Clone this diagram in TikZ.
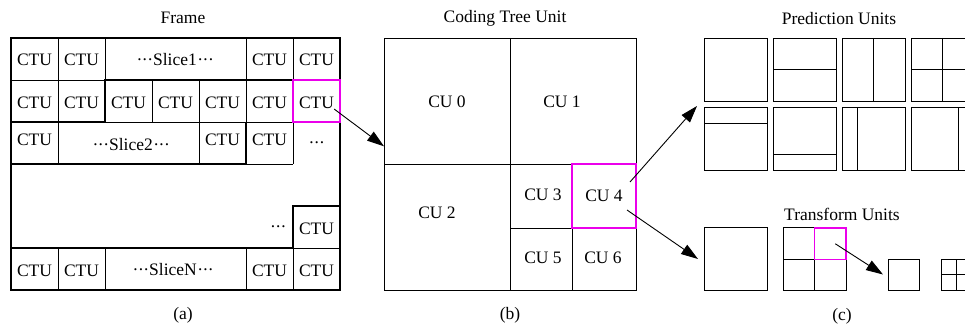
\documentclass[tikz,border=0pt]{standalone}
\usepackage{fontspec}
\setmainfont{Liberation Serif}
\usetikzlibrary{arrows.meta,calc}
\definecolor{hlmag}{RGB}{235,0,235}
\newcommand{\mdots}{\raisebox{0.1ex}{\kern0.5pt·\kern-0.5pt·\kern-0.5pt·}}

\begin{document}
\begin{tikzpicture}[x=1pt, y=-1pt,
    lbl/.style={font=\fontsize{17.5}{20}\selectfont, inner sep=0pt},
    thinline/.style={line width=0.9pt},
    slicebd/.style={line width=2.5pt},
    cubox/.style={draw, thinline, inner sep=0pt, outer sep=0pt, minimum size=#1},
    hlbox/.style={draw=hlmag, line width=1.5pt, inner sep=0pt, outer sep=0pt, minimum size=#1},
    arr/.style={-{Triangle[length=17pt,width=11pt]}, line width=0.9pt}]
    \useasboundingbox (0,0) rectangle (965,326);
    \clip (0,0) rectangle (965,326);

    % Frame: CTU borders
    \foreach \x in {58,105,246,293} \draw[thinline] (\x,38) -- (\x,80);
    \foreach \x in {58,152,199,246,293} \draw[thinline] (\x,80) -- (\x,122);
    \foreach \x in {58,199,293} \draw[thinline] (\x,122) -- (\x,164);
    \foreach \x in {58,105,246,293} \draw[thinline] (\x,248) -- (\x,290);
    \draw[thinline] (11,80) -- (105,80);
    \draw[thinline] (105,122) -- (340,122);
    \draw[thinline] (246,164) -- (293,164);
    \draw[thinline] (293,248) -- (340,248);

    % Frame: slice borders
    \draw[slicebd] (11,38) rectangle (340,290);
    \draw[slicebd] (340,80) -- (105,80) -- (105,122) -- (11,122);
    \draw[slicebd] (246,122) -- (246,164) -- (11,164);
    \draw[slicebd] (340,206) -- (293,206) -- (293,248) -- (11,248);

    % Frame: nodes
    \foreach \c/\x in {1/34.5,2/81.5,6/269.5,7/316.5} {
        \node[lbl] (ctu1\c) at (\x,60) {CTU};
        \node[lbl] (ctu6\c) at (\x,271) {CTU};
    }
    \foreach \c/\x in {1/34.5,2/81.5,3/128.5,4/175.5,5/222.5,6/269.5,7/316.5}
        \node[lbl] (ctu2\c) at (\x,103) {CTU};
    \foreach \c/\x in {1/34.5,5/222.5,6/269.5}
        \node[lbl] (ctu3\c) at (\x,140) {CTU};
    \node[lbl] (ctu57) at (316.5,229) {CTU};
    \node[lbl] (slice1) at (175,60) {\mdots Slice1\mdots};
    \node[lbl] (slice2) at (131,145) {\mdots Slice2\mdots};
    \node[lbl] (sliceN) at (173,270) {\mdots SliceN\mdots};
    \node[lbl] (dots3) at (316.5,145) {\mdots};
    \node[lbl] (dots5) at (278,229) {\mdots};
    \node[hlbox=42pt, minimum width=47pt] (selctu) at (316.5,101) {};
    \node[lbl] (frame) at (183,18) {Frame};
    \node[lbl] (capa) at (183,315) {(a)};

    % Coding Tree Unit
    \node[cubox=252pt] (ctb) at (510,164) {};
    \node[lbl, hlbox=64pt] (cu4box) at (604,196) {CU 4};
    \draw[thinline] (ctb.north) -- (ctb.south);
    \draw[thinline] (ctb.west) -- (ctb.east);
    \draw[thinline] (cu4box.north west) -- (cu4box.north west |- ctb.south);
    \draw[thinline] (ctb.center |- cu4box.south) -- (cu4box.south west);
    \draw[draw=hlmag, line width=1.5pt] (cu4box.north west) rectangle (cu4box.south east);
    \node[lbl] (cu0) at (447,102) {CU 0};
    \node[lbl] (cu1) at (562,102) {CU 1};
    \node[lbl] (cu2) at (437,213) {CU 2};
    \node[lbl] (cu3) at (543,195) {CU 3};
    \node[lbl] (cu5) at (543,258) {CU 5};
    \node[lbl] (cu6) at (603,258) {CU 6};
    \node[lbl] (ctbtitle) at (505,18) {Coding Tree Unit};
    \node[lbl] (capb) at (510,315) {(b)};

    % Prediction Units
    \foreach \i/\x/\y in {1/735.5/69.5,2/804.5/69.5,3/873.5/69.5,4/942.5/69.5,
                          5/735.5/139,6/804.5/139,7/873.5/139,8/942.5/139}
        \node[cubox=63pt] (pu\i) at (\x,\y) {};
    \draw[thinline] (pu2.west) -- (pu2.east);
    \draw[thinline] (pu3.north) -- (pu3.south);
    \draw[thinline] (pu4.west) -- (pu4.east) (pu4.north) -- (pu4.south);
    \draw[thinline] ($(pu5.north west)!0.25!(pu5.south west)$) -- ($(pu5.north east)!0.25!(pu5.south east)$);
    \draw[thinline] ($(pu6.north west)!0.75!(pu6.south west)$) -- ($(pu6.north east)!0.75!(pu6.south east)$);
    \draw[thinline] ($(pu7.north west)!0.25!(pu7.north east)$) -- ($(pu7.south west)!0.25!(pu7.south east)$);
    \draw[thinline] ($(pu8.north west)!0.75!(pu8.north east)$) -- ($(pu8.south west)!0.75!(pu8.south east)$);
    \node[lbl] (putitle) at (839,19) {Prediction Units};

    % Transform Units
    \node[cubox=63pt] (tu1) at (735.5,259) {};
    \node[cubox=63pt] (tu2) at (814.5,259) {};
    \draw[thinline] (tu2.north) -- (tu2.south) (tu2.west) -- (tu2.east);
    \node[hlbox=31.5pt] (tusel) at (830.25,243.75) {};
    \node[cubox=31pt] (tusmall) at (903.5,274.5) {};
    \node[cubox=31pt] (tutiny) at (956.5,274.5) {};
    \draw[thinline] (tutiny.north) -- (tutiny.south) (tutiny.west) -- (tutiny.east);
    \node[lbl] (tutitle) at (842,214) {Transform Units};
    \node[lbl] (capc) at (842,316) {(c)};

    % Arrows
    \draw[arr] (ctu27.south east) -- (ctb.172);
    \draw[arr] ([shift={(-6,-14)}]cu4box.east) -- ([shift={(-7,5)}]pu1.south west);
    \draw[arr] ([shift={(-9,14)}]cu4box.east) -- ([xshift=-6pt]tu1.west);
    \draw[arr] ([xshift=5pt]tusel.center) -- ([xshift=-5pt]tusmall.west);
\end{tikzpicture}
\end{document}
